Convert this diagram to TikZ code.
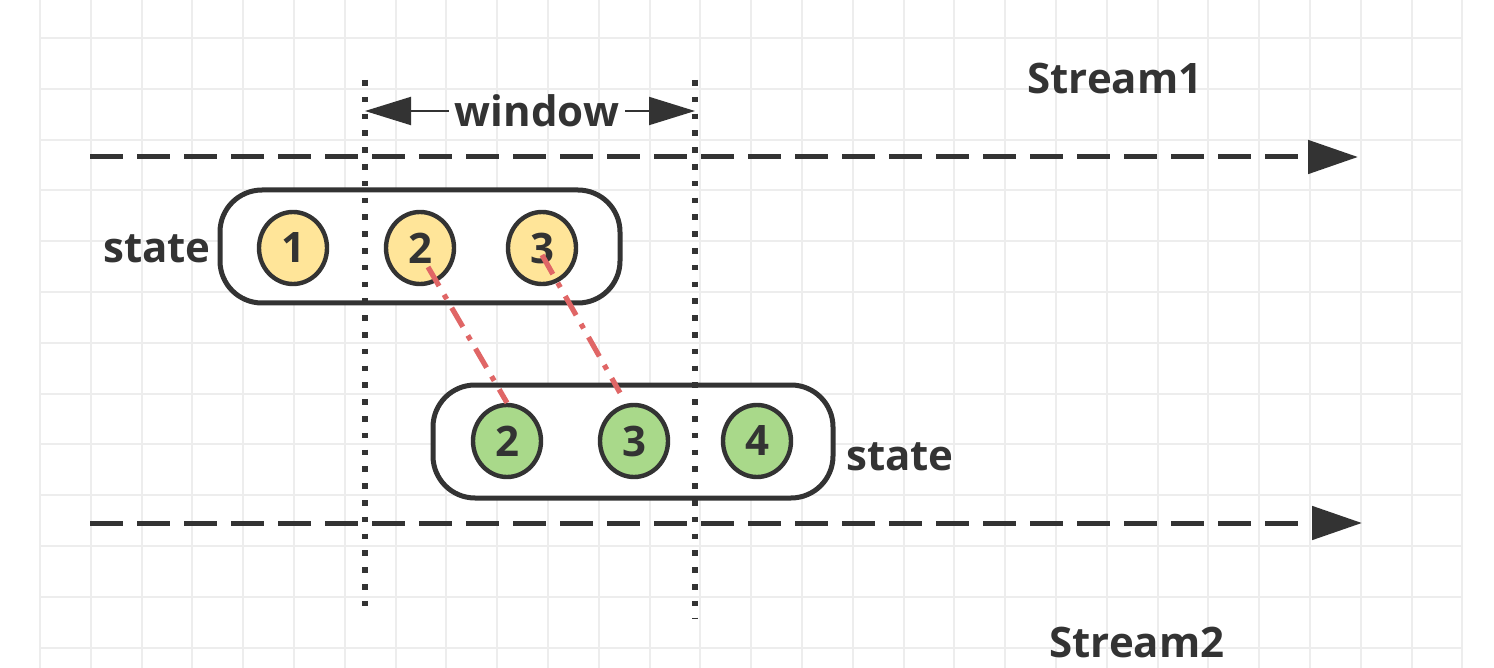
\documentclass[tikz,border=0pt]{standalone}
\usepackage{fontspec}
\setmainfont{Open Sans}
\usetikzlibrary{arrows.meta,calc,shapes.geometric}
\definecolor{inkgray}{HTML}{333333}
\definecolor{gridgray}{HTML}{EDEDED}
\definecolor{oldyellow}{HTML}{FFE599}
\definecolor{newgreen}{HTML}{A9D98A}
\definecolor{joinred}{HTML}{E06666}
\tikzset{
  lbl/.style={font=\fontsize{21}{25}\selectfont\bfseries, text=inkgray, inner sep=2pt},
  pill/.style={draw=inkgray, line width=2.5pt, rounded corners=21pt, fill=white,
    minimum width=200pt, minimum height=56.5pt},
  item/.style={ellipse, draw=inkgray, line width=2.2pt, minimum width=34pt,
    minimum height=36pt, inner sep=0pt, lbl},
  olditem/.style={item, fill=oldyellow},
  newitem/.style={item, fill=newgreen},
  gridline/.style={draw=gridgray, line width=1pt},
  stream/.style={-{Triangle[length=25pt,width=16.5pt]}, draw=inkgray, line width=2.5pt,
    dash pattern=on 16.5pt off 7pt},
  bound/.style={draw=inkgray, line width=2.8pt, dash pattern=on 2.8pt off 5.6pt},
  winspan/.style={-{Triangle[length=23pt,width=14pt]}, draw=inkgray, line width=1pt},
  joinlink/.style={draw=joinred, line width=2.6pt, dash pattern=on 11pt off 5pt on 2.6pt off 5pt},
}
\begin{document}
\begin{tikzpicture}[x=0.5pt,y=-0.5pt]
\useasboundingbox (0,0) rectangle (1494,668);
\fill[white] (0,0) rectangle (1494,668);
% grid
\foreach \i in {0,...,28}
  \draw[gridline] ({40+50.8*\i},0) -- ({40+50.8*\i},668);
\foreach \j in {0,...,12}
  \draw[gridline] (40,{38+50.8*\j}) -- (1462,{38+50.8*\j});
% streams
\coordinate (s1a) at (90,157);
\coordinate (s1b) at (1358,157);
\coordinate (s2a) at (90,523);
\coordinate (s2b) at (1362,523);
\draw[stream] (s1a) -- (s1b);
\draw[stream] (s2a) -- (s2b);
\node[lbl] (stream1) at (1115,79) {Stream1};
\node[lbl, inner sep=0pt] (stream2) at (1137,642) {Stream2};
% states
\node[pill] (pill1) at (420,246.5) {};
\node[pill] (pill2) at (633,441.5) {};
\node[lbl] (state1) at (157,249) {state};
\node[lbl] (state2) at (900,457) {state};
% window bounds
\coordinate (wt) at (365,80);
\coordinate (wb) at (365,616);
\coordinate (vt) at (695,80);
\coordinate (vb) at (695,618);
\draw[bound] (wt) -- (wb);
\draw[bound] (vt) -- (vb);
\node[lbl, inner sep=3pt] (win) at (537,111) {window};
\coordinate (wl) at (365,111);
\coordinate (wr) at (695,111);
\draw[winspan] (win) -- (wl);
\draw[winspan] (win) -- (wr);
% elements
\node[olditem] (u1) at (293,248) {1};
\node[olditem] (u2) at (420,248) {2};
\node[olditem] (u3) at (542,248) {3};
\node[newitem] (l2) at (507,441) {2};
\node[newitem] (l3) at (634,441) {3};
\node[newitem] (l4) at (757,441) {4};
% joins
\draw[joinlink] ($(u2.center)+(8,19)$) -- (l2.north);
\draw[joinlink] ($(u3.center)+(0,7)$) -- ($(l3.north)+(-14,-10)$);
\end{tikzpicture}
\end{document}
